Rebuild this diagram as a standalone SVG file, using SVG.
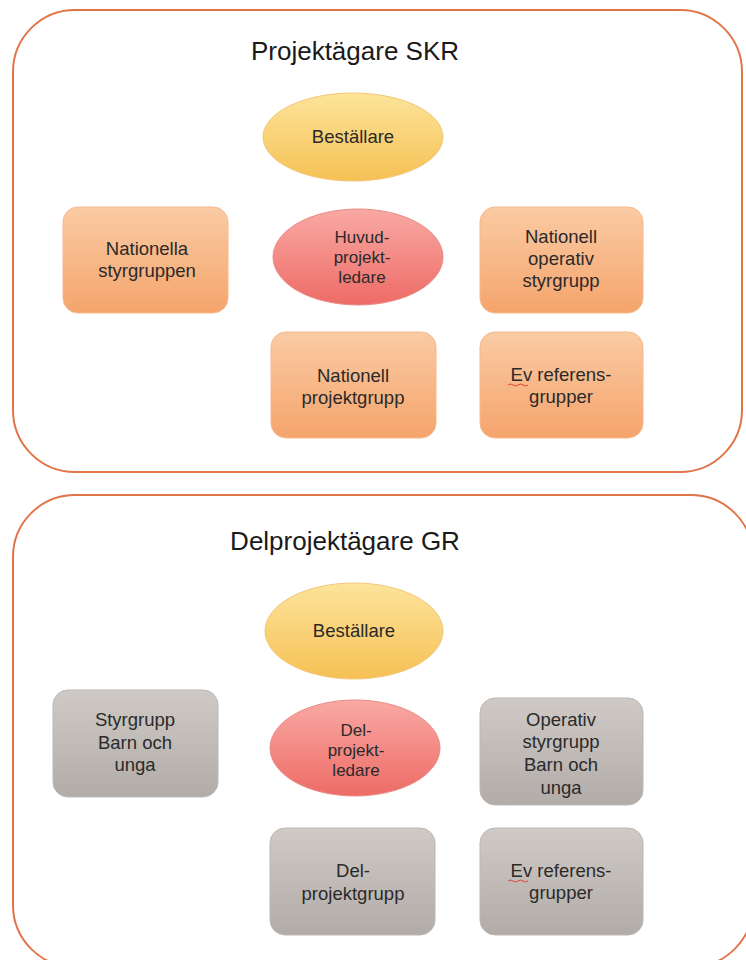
<svg xmlns="http://www.w3.org/2000/svg" width="746" height="960" viewBox="0 0 746 960">
<defs>
<linearGradient id="gY" x1="0" y1="0" x2="0" y2="1"><stop offset="0" stop-color="#FCE49A"/><stop offset="1" stop-color="#F6C155"/></linearGradient>
<linearGradient id="gO" x1="0" y1="0" x2="0" y2="1"><stop offset="0" stop-color="#FACBA4"/><stop offset="1" stop-color="#F5A46B"/></linearGradient>
<linearGradient id="gR" x1="0" y1="0" x2="0" y2="1"><stop offset="0" stop-color="#F9A9A4"/><stop offset="1" stop-color="#EE6B66"/></linearGradient>
<linearGradient id="gG" x1="0" y1="0" x2="0" y2="1"><stop offset="0" stop-color="#D0CAC6"/><stop offset="1" stop-color="#B2ACA8"/></linearGradient>
</defs>
<style>
.cont{fill:#fff;stroke:#E2744A;stroke-width:2}
.title{font-family:"Liberation Sans",Arial,sans-serif;font-size:26px;fill:#1a1a1a;text-anchor:middle}
.t{font-family:"Liberation Sans",Arial,sans-serif;font-size:18.5px;fill:#2a2a2a;text-anchor:middle}
.ts{font-family:"Liberation Sans",Arial,sans-serif;font-size:17px;fill:#2a2a2a;text-anchor:middle}
.y{fill:url(#gY);stroke:#F3C77A;stroke-width:1}
.o{fill:url(#gO);stroke:#F6B98C;stroke-width:1}
.r{fill:url(#gR);stroke:#E98A86;stroke-width:1}
.g{fill:url(#gG);stroke:#BDB7B3;stroke-width:1}
.sq{fill:none;stroke:#E0443A;stroke-width:1}
</style>
<rect width="746" height="960" fill="#fff"/>
<g id="container-skr">
<rect class="cont" x="13" y="10" width="729" height="462" rx="62"/>
<text class="title" x="355" y="60">Projektägare SKR</text>
</g>
<g id="container-gr">
<rect class="cont" x="13" y="495" width="740" height="472" rx="62"/>
<text class="title" x="345" y="550">Delprojektägare GR</text>
</g>
<g id="connectors"></g>
<g id="skr-bestallare"><ellipse class="y" cx="353" cy="137" rx="90" ry="44"/><text class="t" x="353" y="143">Beställare</text></g>
<g id="skr-nationella-styrgruppen"><rect class="o" x="63" y="207" width="165" height="106" rx="15"/><text class="t" x="147" y="255">Nationella</text><text class="t" x="147" y="277">styrgruppen</text></g>
<g id="skr-huvudprojektledare"><ellipse class="r" cx="358" cy="257" rx="85" ry="48"/><text class="ts" x="362" y="243">Huvud-</text><text class="ts" x="362" y="263">projekt-</text><text class="ts" x="362" y="283">ledare</text></g>
<g id="skr-operativ-styrgrupp"><rect class="o" x="480" y="207" width="163" height="106" rx="15"/><text class="t" x="561" y="243">Nationell</text><text class="t" x="561" y="265">operativ</text><text class="t" x="561" y="287">styrgrupp</text></g>
<g id="skr-projektgrupp"><rect class="o" x="271" y="332" width="165" height="106" rx="15"/><text class="t" x="353" y="382">Nationell</text><text class="t" x="353" y="404">projektgrupp</text></g>
<g id="skr-referensgrupper"><rect class="o" x="480" y="332" width="163" height="106" rx="15"/><text class="t" x="561" y="381">Ev referens-</text><text class="t" x="561" y="403">grupper</text><path class="sq" d="M508 385 q2.5 -2 5 0 t5 0 t5 0 t5 0"/></g>
<g id="gr-bestallare"><ellipse class="y" cx="354" cy="631" rx="89" ry="48"/><text class="t" x="354" y="637">Beställare</text></g>
<g id="gr-styrgrupp"><rect class="g" x="53" y="690" width="165" height="107" rx="15"/><text class="t" x="135" y="726">Styrgrupp</text><text class="t" x="135" y="749">Barn och</text><text class="t" x="135" y="771">unga</text></g>
<g id="gr-delprojektledare"><ellipse class="r" cx="355" cy="748" rx="85" ry="48"/><text class="ts" x="356" y="736">Del-</text><text class="ts" x="356" y="756">projekt-</text><text class="ts" x="356" y="776">ledare</text></g>
<g id="gr-operativ-styrgrupp"><rect class="g" x="480" y="698" width="163" height="107" rx="15"/><text class="t" x="561" y="726">Operativ</text><text class="t" x="561" y="748">styrgrupp</text><text class="t" x="561" y="771">Barn och</text><text class="t" x="561" y="794">unga</text></g>
<g id="gr-delprojektgrupp"><rect class="g" x="270" y="828" width="165" height="107" rx="15"/><text class="t" x="353" y="877">Del-</text><text class="t" x="353" y="900">projektgrupp</text></g>
<g id="gr-referensgrupper"><rect class="g" x="480" y="828" width="163" height="107" rx="15"/><text class="t" x="561" y="877">Ev referens-</text><text class="t" x="561" y="899">grupper</text><path class="sq" d="M508 881 q2.5 -2 5 0 t5 0 t5 0 t5 0"/></g>
</svg>
